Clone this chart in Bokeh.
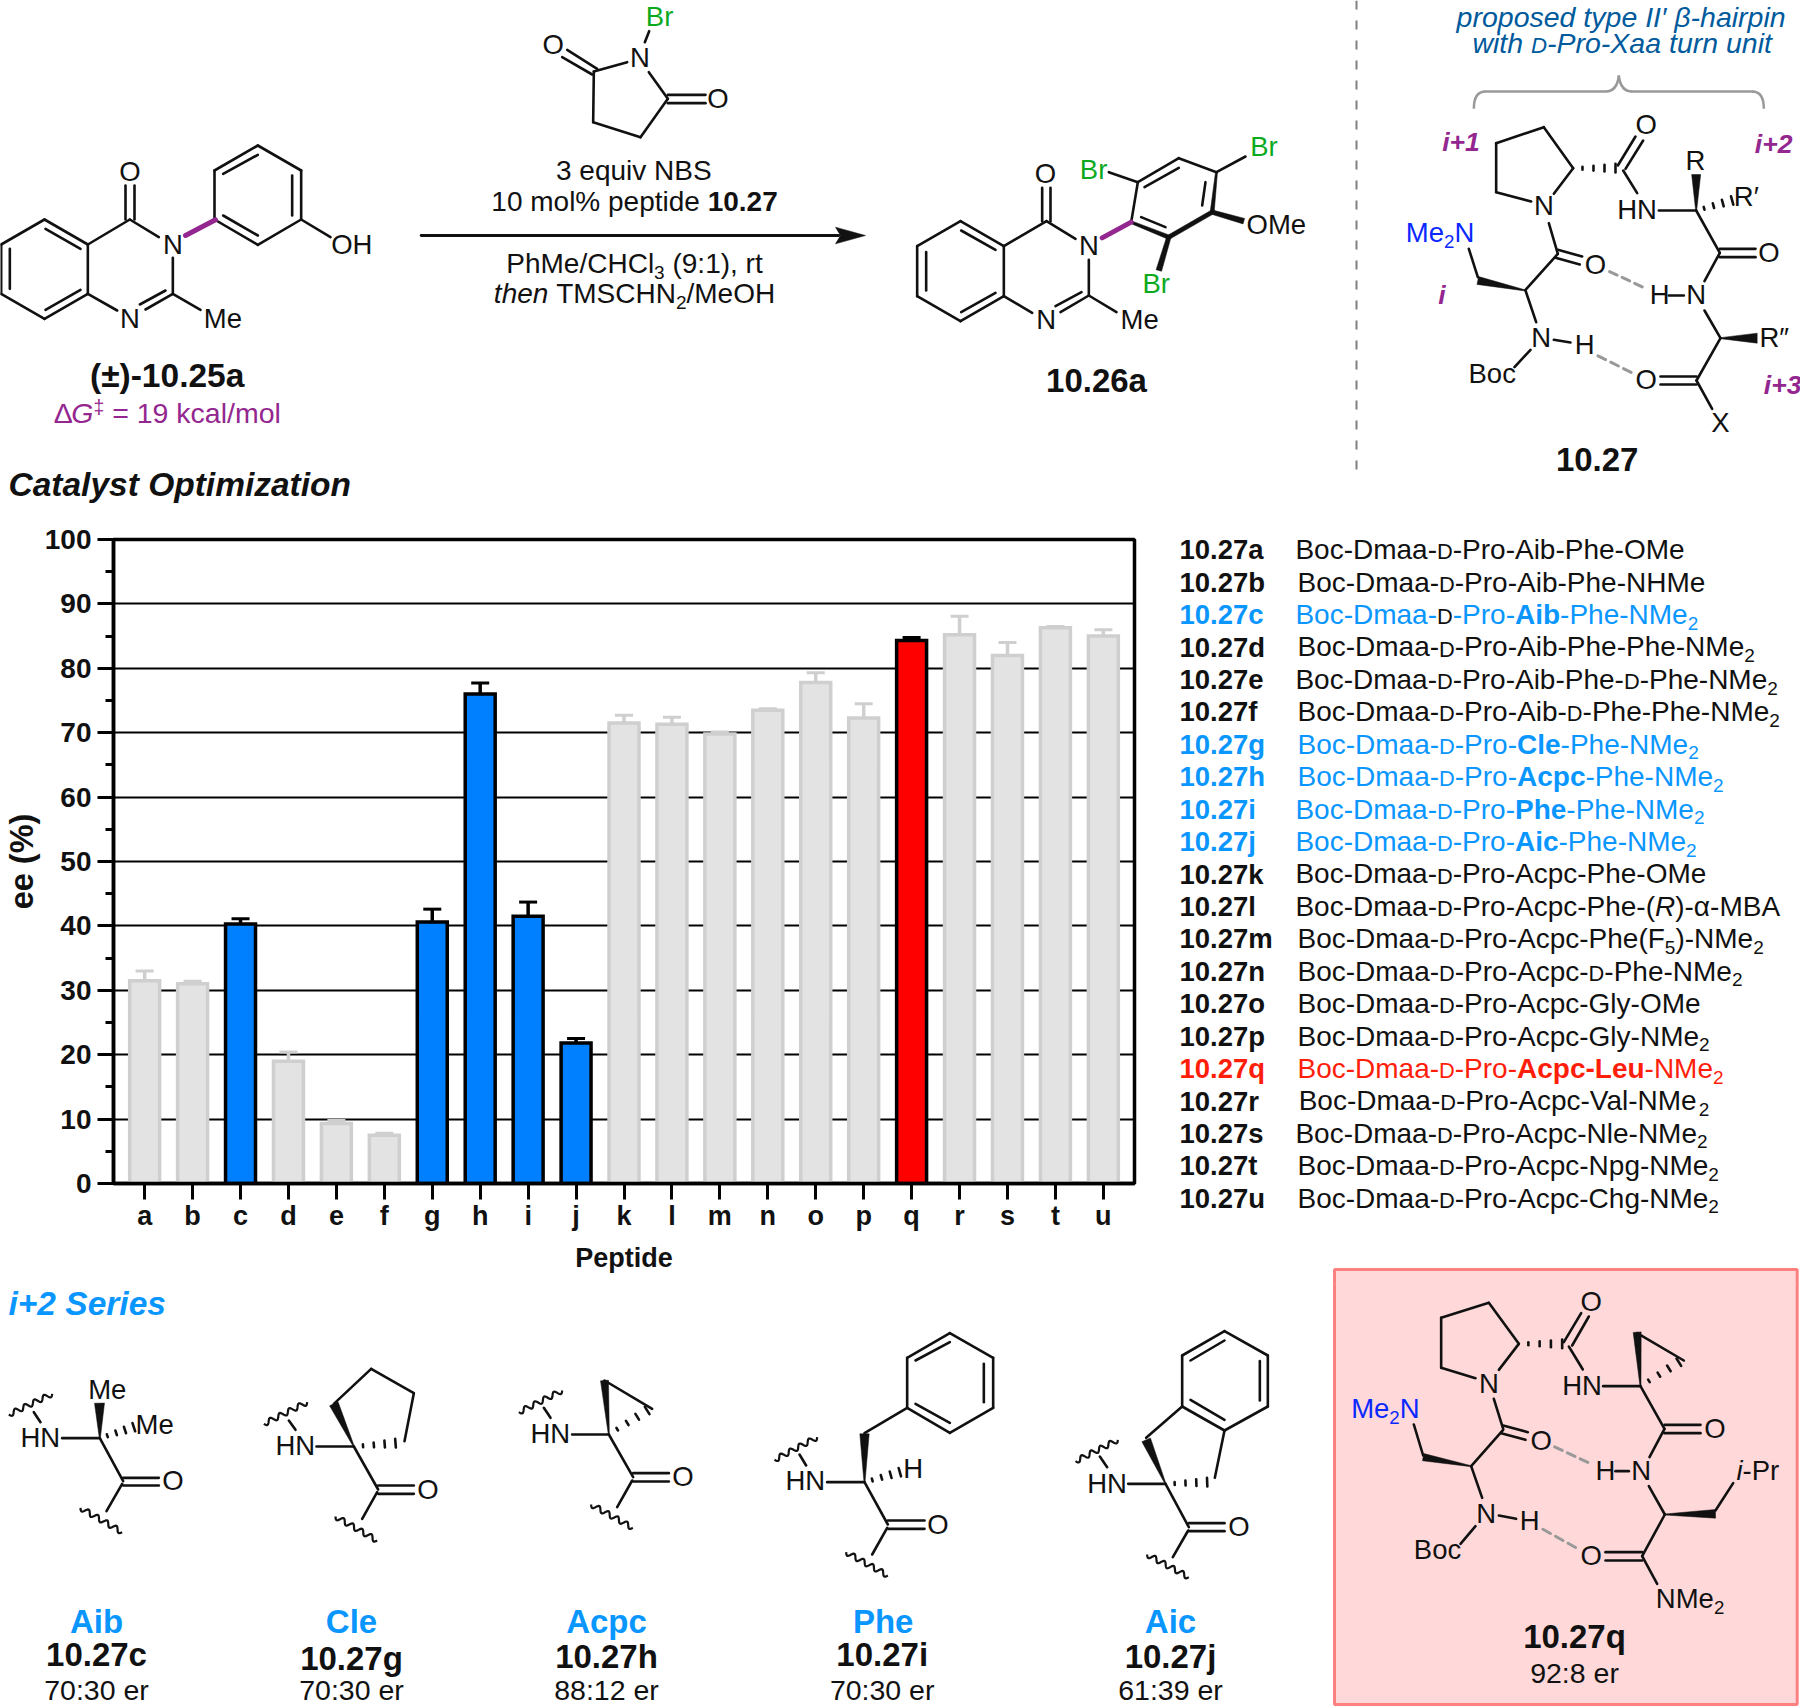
import math, re
from bokeh.plotting import figure
from bokeh.layouts import column, row
from bokeh.models import (ColumnDataSource, FactorRange, Range1d, SingleIntervalTicker,
                          Whisker, TeeHead)
from bokeh.core.properties import value
from bokeh.embed import file_html
from bokeh.resources import INLINE

# ---------- chart data ----------
PEPTIDES = list("abcdefghijklmnopqrstu")
EE = [31.5, 31.0, 40.3, 19.0, 9.3, 7.5, 40.6, 76.0, 41.5, 21.8, 71.5,
      71.3, 69.8, 73.5, 77.8, 72.3, 84.3, 85.2, 82.0, 86.3, 85.0]
ERR = [1.5, 0.4, 0.8, 1.4, 0.5, 0.3, 2.0, 1.7, 2.2, 0.7, 1.2,
       1.1, 0.3, 0.2, 1.5, 2.2, 0.5, 2.9, 2.0, 0.2, 1.0]
GROUP = list("ggbgggbbbbggggggrgggg")

# ---------- peptide table ----------
BLACK, BLUE, RED, PURPLE, GREEN, NBLUE, NAVY = "#111111", "#0A96FF", "#FF1E0A", "#93278F", "#0BAA1E", "#0A28FF", "#005A9C"
D = "[sc|D]"
TABLE = [
 ("a", 333, BLACK, f"Boc-Dmaa-{D}-Pro-Aib-Phe-OMe"),
 ("b", 338, BLACK, f"Boc-Dmaa-{D}-Pro-Aib-Phe-NHMe"),
 ("c", 333, BLUE,  "Boc-Dmaa-[sck|D]-Pro-[b|Aib]-Phe-NMe[s|2]"),
 ("d", 338, BLACK, f"Boc-Dmaa-{D}-Pro-Aib-Phe-Phe-NMe[s|2]"),
 ("e", 333, BLACK, f"Boc-Dmaa-{D}-Pro-Aib-Phe-{D}-Phe-NMe[s|2]"),
 ("f", 338, BLACK, f"Boc-Dmaa-{D}-Pro-Aib-{D}-Phe-Phe-NMe[s|2]"),
 ("g", 338, BLUE,  f"Boc-Dmaa-{D}-Pro-[b|Cle]-Phe-NMe[s|2]"),
 ("h", 338, BLUE,  f"Boc-Dmaa-{D}-Pro-[b|Acpc]-Phe-NMe[s|2]"),
 ("i", 333, BLUE,  f"Boc-Dmaa-{D}-Pro-[b|Phe]-Phe-NMe[s|2]"),
 ("j", 333, BLUE,  f"Boc-Dmaa-{D}-Pro-[b|Aic]-Phe-NMe[s|2]"),
 ("k", 333, BLACK, f"Boc-Dmaa-{D}-Pro-Acpc-Phe-OMe"),
 ("l", 333, BLACK, f"Boc-Dmaa-{D}-Pro-Acpc-Phe-([i|R])-α-MBA"),
 ("m", 338, BLACK, f"Boc-Dmaa-{D}-Pro-Acpc-Phe(F[s|5])-NMe[s|2]"),
 ("n", 338, BLACK, f"Boc-Dmaa-{D}-Pro-Acpc-{D}-Phe-NMe[s|2]"),
 ("o", 338, BLACK, f"Boc-Dmaa-{D}-Pro-Acpc-Gly-OMe"),
 ("p", 338, BLACK, f"Boc-Dmaa-{D}-Pro-Acpc-Gly-NMe[s|2]"),
 ("q", 338, RED,   f"Boc-Dmaa-{D}-Pro-[b|Acpc-Leu]-NMe[s|2]"),
 ("r", 341, BLACK, f"Boc-Dmaa-{D}-Pro-Acpc-Val-NMe[s|2]"),
 ("s", 333, BLACK, f"Boc-Dmaa-{D}-Pro-Acpc-Nle-NMe[s|2]"),
 ("t", 338, BLACK, f"Boc-Dmaa-{D}-Pro-Acpc-Npg-NMe[s|2]"),
 ("u", 338, BLACK, f"Boc-Dmaa-{D}-Pro-Acpc-Chg-NMe[s|2]"),
]

# ---------- drawings: coordinates are reference pixels x3 relative to an origin ----------
# keys: b bonds, pb purple bonds, w wedges (x1,y1,x2,y2,w1,w2), h hash bonds, hb H-bond dashes,
#       wv wavy bonds, t texts (x, baseline, markup, anchor, size, colour)
def ring6(v):
    return [v[i] + v[(i + 1) % len(v)] for i in range(len(v))]

SM = dict(o=(0, 120),
  b=ring6([(132,297),(262,372),(262,520),(132,595),(2,520),(2,372)]) + [
    (135,325,240,385),(28,385,28,505),(135,568,240,508),(262,372,388,297),
    (375,195,375,297),(402,195,402,297),(388,297,475,350),(517,412,517,520),
    (517,520,435,567),(495,510,418,552),(262,520,350,570),(517,520,600,568)] +
    ring6([(642,297),(642,150),(772,75),(902,150),(902,297),(772,373)]) + [
    (668,160,772,103),(875,165,875,285),(668,285,772,345),(902,297,990,350)],
  pb=[(555,345,645,298)],
  t=[(388,183,"O","c"),(517,402,"N","c"),(388,622,"N","c"),(610,622,"Me","l"),(992,402,"OH","l"),
     (500,800,"[b|(±)-10.25a]","c",33.5),
     (160,908,"Δ[i|G][u|‡] = 19 kcal/mol","l",28.5,PURPLE)])

NBS = dict(o=(410, 0),
  b=[(716,92,703,125),(550,213,650,185),(455,170,545,222),(470,148,560,205),(550,213,548,365),
     (548,365,690,410),(690,410,772,295),(772,295,715,215),(772,283,885,283),(772,308,885,308)],
  t=[(706,76,"Br","l",27.5,GREEN),(688,200,"N","c"),(428,160,"O","c"),(922,322,"O","c"),
     (670,540,"3 equiv NBS","c",28),(672,632,"10 mol% peptide [b|10.27]","c",28),
     (672,818,"PhMe/CHCl[s|3] (9:1), rt","c",28),(672,908,"[i|then] TMSCHN[s|2]/MeOH","c",28)])
ARROW_LINE = (32,705,1285,705)
ARROW_HEAD = [(1365,705),(1275,680),(1290,705),(1275,730)]

PROD = dict(o=(900, 130),
  b=ring6([(180,272),(310,347),(310,497),(180,572),(50,497),(50,347)]) + [
    (182,300,285,358),(77,365,77,480),(182,545,285,487),(310,347,438,272),(425,172,425,272),
    (450,172,450,272),(438,272,525,325),(565,388,565,495),(565,495,480,545),(543,485,465,527),
    (310,497,395,547),(565,495,648,545),(692,275,712,155),(712,155,835,83),(835,83,948,125),
    (732,170,835,112),(915,155,905,225),(722,260,795,290),(712,155,625,125),(948,125,1035,78)],
  pb=[(605,322,692,275)],
  w=[(948,125,935,245,6,12),(935,245,805,320,13,13),(805,320,692,275,13,8),
     (935,245,1030,272,13,17),(805,320,775,420,13,17)],
  t=[(435,157,"O","c"),(565,375,"N","c"),(437,597,"N","c"),(660,597,"Me","l"),
     (538,145,"Br","l",27.5,GREEN),(1049,78,"Br","l",27.5,GREEN),(726,488,"Br","l",27.5,GREEN),
     (1038,312,"OMe","l"),(588,785,"[b|10.26a]","c",33)])

TURN = dict(o=(1340, 0),
  b=[(572,603,467,575),(467,575,467,428),(467,428,610,380),(610,380,698,503),(698,503,640,580),
     (832,495,885,408),(855,505,908,420),(848,510,890,578),(955,630,1067,630),(1067,630,1138,757),
     (1138,745,1245,745),(1138,770,1245,770),(1138,757,1092,842),(985,885,1030,885),(1092,930,1140,1013),
     (1140,1013,1068,1140),(960,1128,1068,1128),(960,1152,1068,1152),(1068,1140,1115,1225),
     (625,668,652,760),(652,748,725,768),(645,772,718,792),(652,760,555,868),(412,830,385,745),
     (555,870,587,965),(640,1018,690,1026),(570,1048,522,1100)],
  w=[(1067,630,1067,522,3,27),(1140,1013,1250,1013,3,30),(555,870,412,840,3,24)],
  h=[(698,503,825,503),(1067,630,1175,600)],
  hb=[(805,812,918,865),(770,1065,885,1122)],
  t=[(610,645,"N","c"),(917,402,"O","c"),(830,655,"HN","l"),(1065,510,"R","c"),(1180,618,"R′","l"),
     (1285,785,"O","c"),(928,912,"H","l"),(1067,912,"N","c"),(1257,1040,"R″","l"),(917,1167,"O","c"),
     (1140,1295,"X","c"),(765,822,"O","c"),(196,725,"Me[s|2]N","l",27.5,NBLUE),(602,1040,"N","c"),
     (703,1062,"H","l"),(384,1148,"Boc","l"),
     (305,452,"[bi|i+1]","l",26.5,PURPLE),(1243,458,"[bi|i+2]","l",26.5,PURPLE),(1270,1182,"[bi|i+3]","l",26.5,PURPLE),
     (293,912,"[bi|i]","l",26.5,PURPLE),(770,1412,"[b|10.27]","c",33),
     (842,80,"[i|proposed type II′ β-hairpin]","c",28.5,NAVY),
     (845,157,"[i|with ][isc|D][i|-Pro-Xaa turn unit]","c",28.5,NAVY)])
BRACE_Q = [(400,325,435,273,400,273),(795,273,835,225,830,273),(835,225,875,273,840,273),(1235,273,1270,325,1270,273)]
BRACE_L = [(435,273,795,273),(875,273,1235,273)]
DIVIDER = (1356, 0, 1356, 473)

AIB = dict(o=(0, 1270),
  b=[(100,425,120,455),(185,503,298,503),(298,503,368,632),(368,622,475,622),(368,645,475,645),(365,640,318,722)],
  w=[(298,503,297,398,3,30)], h=[(298,503,400,470)], wv=[(25,432,155,370),(240,712,365,785)],
  t=[(60,530,"HN","l"),(263,385,"Me","l"),(405,492,"Me","l"),(517,660,"O","c"),
     (288,1088,"[b|Aib]","c",33,BLUE),(288,1187,"[b|10.27c]","c",33),(288,1288,"70:30 er","c",28.5)])
CLE = dict(o=(0, 1270),
  b=[(865,450,885,478),(948,528,1060,528),(1000,400,1112,295),(1112,295,1240,368),(1240,368,1212,512),
     (1060,528,1133,657),(1133,645,1240,645),(1133,670,1240,670),(1130,665,1085,745)],
  w=[(1060,528,1000,400,3,28)], h=[(1060,528,1185,518)], wv=[(790,460,920,395),(1005,738,1130,810)],
  t=[(825,555,"HN","l"),(1282,685,"O","c"),(1053,1088,"[b|Cle]","c",33,BLUE),
     (1053,1198,"[b|10.27g]","c",33),(1053,1288,"70:30 er","c",28.5)])
ACPC = dict(o=(480, 1300),
  b=[(190,322,210,352),(275,402,385,402),(372,240,515,325),(385,402,458,530),(458,518,565,518),
     (458,543,565,543),(455,540,410,620)],
  w=[(385,402,372,240,3,24)], h=[(385,402,500,330)], wv=[(115,335,245,270),(332,612,457,682)],
  t=[(150,428,"HN","l"),(607,558,"O","c"),(378,998,"[b|Acpc]","c",33,BLUE),
     (378,1103,"[b|10.27h]","c",33),(378,1198,"88:12 er","c",28.5)])
PHE = dict(o=(480, 1300),
  b=[(957,462,977,495),(1040,545,1152,545),(1152,398,1280,322)] +
    ring6([(1280,322),(1280,172),(1408,98),(1538,172),(1538,322),(1408,397)]) + [
    (1305,180,1408,125),(1510,190,1510,305),(1305,310,1408,367),(1152,545,1222,672),
    (1222,660,1332,660),(1222,685,1332,685),(1220,682,1175,762)],
  w=[(1152,545,1152,400,3,28)], h=[(1152,545,1258,515)], wv=[(882,478,1010,410),(1097,755,1222,825)],
  t=[(915,570,"HN","l"),(1268,532,"H","l"),(1372,700,"O","c"),(1208,998,"[b|Phe]","c",33,BLUE),
     (1205,1098,"[b|10.27i]","c",33),(1205,1198,"70:30 er","c",28.5)])
AIC = dict(o=(1000, 1300),
  b=[(298,468,320,500),(383,550,495,550),(437,412,545,318)] +
    ring6([(545,318),(545,165),(672,92),(802,165),(802,318),(672,390)]) + [
    (570,180,672,120),(778,182,778,300),(570,298,672,358),(672,390,643,532),(495,550,565,680),
    (565,668,672,668),(565,692,672,692),(563,690,517,770)],
  w=[(495,550,437,418,3,28)], h=[(495,550,620,545)], wv=[(225,482,352,418),(440,762,565,830)],
  t=[(260,578,"HN","l"),(715,708,"O","c"),(510,998,"[b|Aic]","c",33,BLUE),
     (510,1103,"[b|10.27j]","c",33),(510,1198,"61:39 er","c",28.5)])
BEST = dict(o=(1320, 1260),
  b=[(465,353,362,322),(362,322,362,172),(362,172,505,127),(505,127,595,250),(595,250,535,328),
     (730,245,782,158),(755,255,805,168),(745,258,787,327),(848,377,960,377),(950,218,1090,300),
     (960,377,1032,505),(1032,493,1140,493),(1032,518,1140,518),(1032,505,987,590),(885,632,925,632),
     (985,677,1033,762),(1185,750,1238,668),(1033,762,965,887),(855,875,965,875),(855,900,965,900),
     (965,887,1010,970),(520,415,548,505),(548,495,622,515),(542,518,615,538),(548,508,452,617),
     (308,585,280,492),(452,617,485,712),(535,765,587,775),(465,797,420,850)],
  w=[(960,377,950,215,3,24),(1033,762,1185,760,3,26),(452,617,308,590,3,22)],
  h=[(595,250,725,250),(960,377,1075,305)],
  hb=[(700,558,815,612),(665,805,778,868)],
  t=[(505,397,"N","c"),(812,152,"O","c"),(725,403,"HN","l"),(1183,533,"O","c"),(825,660,"H","l"),
     (962,660,"N","c"),(1248,660,"[i|i]-Pr","l"),(812,915,"O","c"),(1006,1043,"NMe[s|2]","l"),
     (662,570,"O","c"),(92,473,"Me[s|2]N","l",27.5,NBLUE),(497,787,"N","c"),(598,810,"H","l"),
     (280,895,"Boc","l"),(762,1162,"[b|10.27q]","c",33),(762,1268,"92:8 er","c",28.5)])
BOX = (42, 27, 1430, 1332)

# ---------- text metrics (Helvetica/Liberation advance widths, per 1000) ----------
REG = dict(zip("abcdefghijklmnopqrstuvwxyz", [556,556,500,556,556,278,556,556,222,222,500,222,833,556,556,556,556,333,500,278,556,500,722,500,500,500]))
REG.update(zip("ABCDEFGHIJKLMNOPQRSTUVWXYZ", [667,667,722,722,667,611,778,722,278,500,667,556,833,722,778,667,778,722,667,611,722,667,944,667,667,611]))
BOLD = dict(zip("abcdefghijklmnopqrstuvwxyz", [556,611,556,611,556,333,611,611,278,278,556,278,889,611,611,611,611,389,556,333,611,556,778,556,556,500]))
BOLD.update(zip("ABCDEFGHIJKLMNOPQRSTUVWXYZ", [722,722,722,722,667,611,778,722,278,556,722,611,833,722,778,667,778,722,667,611,722,667,944,667,667,611]))
COMMON = {" ":278,"(":333,")":333,"-":333,".":278,"/":278,":":278,",":278,"+":584,"=":584,"%":889,"±":549,"‡":556,
          "α":577,"β":575,"Δ":612,"′":190,"″":350}
COMMON.update({c:556 for c in "0123456789"})
BASELINE_FIX = 0.35  # the text glyph sits this many em below the requested alphabetic baseline

def tw(s, bold):
    t = BOLD if bold else REG
    return sum(t.get(c, COMMON.get(c, 556)) for c in s) / 1000

def parse(markup):
    out, pos = [], 0
    for m in re.finditer(r"\[(\w+)\|([^\]]*)\]", markup):
        if m.start() > pos:
            out.append(("r", markup[pos:m.start()]))
        out.append((m.group(1), m.group(2)))
        pos = m.end()
    if pos < len(markup):
        out.append(("r", markup[pos:]))
    return out

class Canvas:
    def __init__(self, x0, x1, y0, y1, **kw):
        self.fig = figure(width=x1 - x0, height=y1 - y0, x_range=Range1d(x0, x1), y_range=Range1d(y1, y0),
                          toolbar_location=None, output_backend="svg", min_border=0,
                          x_axis_location=None, y_axis_location=None, outline_line_color=None, **kw)
        self.fig.frame_align = False
        self.fig.grid.visible = False
        self.seg = dict(x0=[], y0=[], x1=[], y1=[], c=[], w=[])
        self.txt = dict(x=[], y=[], t=[], fs=[], sz=[], c=[])
        self.pat = dict(xs=[], ys=[], c=[])

    def line(self, a, b, c, d, color=BLACK, w=2.6):
        for k, v in zip(("x0", "y0", "x1", "y1", "c", "w"), (a, b, c, d, color, w)):
            self.seg[k].append(v)

    def poly(self, xs, ys, color=BLACK):
        self.pat["xs"].append(xs); self.pat["ys"].append(ys); self.pat["c"].append(color)

    def text(self, x, y, markup, anchor="l", size=27.5, color=BLACK):
        runs, total = [], 0
        for st, s in parse(markup):
            bold = st in ("b", "bi")
            sz, dy, col = size, 0, color
            fs = {"b": "bold", "bi": "bold italic", "i": "italic", "isc": "italic"}.get(st, "normal")
            if st == "s":
                sz, dy = size * .68, size * .2
            elif st == "u":
                sz, dy = size * .68, -size * .33
            elif st in ("sc", "isc", "sck"):
                sz = size * .78
                if st == "sck":
                    col = BLACK
            lead = len(s) - len(s.lstrip(" "))
            adv = tw(s, bold) * sz
            runs.append((s.strip(" "), fs, sz, dy - BASELINE_FIX * sz, col, total + lead * .278 * sz))
            total += adv
        x0 = x - (total / 2 if anchor == "c" else total if anchor == "r" else 0)
        for s, fs, sz, dy, col, off in runs:
            self.txt["x"].append(x0 + off); self.txt["y"].append(y + dy); self.txt["t"].append(s)
            self.txt["fs"].append(fs); self.txt["sz"].append(f"{sz:.1f}px"); self.txt["c"].append(col)

    def flush(self):
        p = self.fig
        if self.pat["xs"]:
            p.patches("xs", "ys", fill_color="c", line_color="c", line_width=0.5, source=ColumnDataSource(self.pat))
        if self.seg["x0"]:
            p.segment("x0", "y0", "x1", "y1", line_color="c", line_width="w", line_cap="round",
                      source=ColumnDataSource(self.seg))
        p.text("x", "y", text="t", text_font=value("Liberation Sans"), text_font_style="fs", text_font_size="sz",
               text_color="c", text_align="left", text_baseline="alphabetic", source=ColumnDataSource(self.txt))

def wedge_poly(x1, y1, x2, y2, w1, w2):
    dx, dy = x2 - x1, y2 - y1
    L = math.hypot(dx, dy) or 1
    nx, ny = -dy / L, dx / L
    return ([x1 + nx * w1 / 2, x2 + nx * w2 / 2, x2 - nx * w2 / 2, x1 - nx * w1 / 2],
            [y1 + ny * w1 / 2, y2 + ny * w2 / 2, y2 - ny * w2 / 2, y1 - ny * w1 / 2])

def draw(cv, mol):
    ox, oy = mol["o"]
    X = lambda v: ox + v / 3
    Y = lambda v: oy + v / 3
    for a, b, c, d in mol.get("b", []):
        cv.line(X(a), Y(b), X(c), Y(d))
    for a, b, c, d in mol.get("pb", []):
        cv.line(X(a), Y(b), X(c), Y(d), PURPLE, 5)
    for a, b, c, d, w1, w2 in mol.get("w", []):
        xs, ys = wedge_poly(a, b, c, d, w1, w2)
        cv.poly([X(v) for v in xs], [Y(v) for v in ys])
    for a, b, c, d in mol.get("h", []):
        for k in range(4):
            t = .22 + k * .26
            mx, my = a + (c - a) * t, b + (d - b) * t
            L = math.hypot(c - a, d - b)
            nx, ny = -(d - b) / L, (c - a) / L
            hw = 2 + 11 * t
            cv.line(X(mx + nx * hw), Y(my + ny * hw), X(mx - nx * hw), Y(my - ny * hw), BLACK, 2.6)
    for a, b, c, d in mol.get("hb", []):
        for k in range(3):
            s, e = k / 3 + .02, k / 3 + .22
            cv.line(X(a + (c - a) * s), Y(b + (d - b) * s), X(a + (c - a) * e), Y(b + (d - b) * e), "#999999", 3)
    for a, b, c, d in mol.get("wv", []):
        L = math.hypot(c - a, d - b)
        nx, ny = -(d - b) / L, (c - a) / L
        n = 60
        pts = [(a + (c - a) * i / n + nx * 8 * math.sin(2 * math.pi * 4.5 * i / n),
                b + (d - b) * i / n + ny * 8 * math.sin(2 * math.pi * 4.5 * i / n)) for i in range(n + 1)]
        cv.fig.line([X(q[0]) for q in pts], [Y(q[1]) for q in pts], line_color=BLACK, line_width=2.2)
    for row_ in mol.get("t", []):
        x, y, m, anchor = row_[:4]
        size = row_[4] if len(row_) > 4 else 27.5
        color = row_[5] if len(row_) > 5 else BLACK
        cv.text(X(x), Y(y), m, anchor, size, color)

def box_on(cv):
    ox, oy = BEST["o"]
    a, b, c, d = BOX
    cv.fig.quad(left=ox + a / 3, right=ox + c / 3, top=oy + b / 3, bottom=oy + d / 3,
                fill_color="#FFD9D9", line_color="#FF8080", line_width=3)

# ---------- top panel ----------
top = Canvas(0, 1800, 0, 515)
for m in (SM, NBS, PROD, TURN):
    draw(top, m)
ox, oy = NBS["o"]
a, b, c, d = ARROW_LINE
top.line(ox + a / 3, oy + b / 3, ox + c / 3, oy + d / 3, BLACK, 2.8)
top.poly([ox + q[0] / 3 for q in ARROW_HEAD], [oy + q[1] / 3 for q in ARROW_HEAD])
ox, oy = TURN["o"]
top.fig.quadratic(x0=[ox + q[0] / 3 for q in BRACE_Q], y0=[oy + q[1] / 3 for q in BRACE_Q],
                  x1=[ox + q[2] / 3 for q in BRACE_Q], y1=[oy + q[3] / 3 for q in BRACE_Q],
                  cx=[ox + q[4] / 3 for q in BRACE_Q], cy=[oy + q[5] / 3 for q in BRACE_Q],
                  line_color="#999999", line_width=2.5)
for q in BRACE_L:
    top.line(ox + q[0] / 3, oy + q[1] / 3, ox + q[2] / 3, oy + q[3] / 3, "#999999", 2.5)
top.fig.line([DIVIDER[0], DIVIDER[2]], [DIVIDER[1], DIVIDER[3]], line_color="#808080", line_width=2, line_dash="9 11")
top.text(8, 496, "[bi|Catalyst Optimization]", "l", 33.5)
top.flush()

# ---------- bar chart ----------
chart = figure(width=1165, height=770, x_range=FactorRange(factors=PEPTIDES, range_padding=0.15,
               range_padding_units="absolute", factor_padding=0), y_range=Range1d(0, 100),
               toolbar_location=None, output_backend="svg", min_border_left=113, min_border_right=31,
               min_border_top=24, min_border_bottom=102, outline_line_color="black", outline_line_width=3.5,
               y_axis_label="ee (%)", x_axis_label="Peptide")
chart.frame_align = False
chart.xgrid.visible = False
chart.ygrid.grid_line_color = "black"
chart.ygrid.grid_line_width = 2
chart.yaxis.ticker = SingleIntervalTicker(interval=10, num_minor_ticks=2)
chart.yaxis.minor_tick_out = 8
chart.yaxis.minor_tick_in = 0
chart.yaxis.minor_tick_line_width = 3
chart.xaxis.minor_tick_line_color = None
for ax in (chart.xaxis, chart.yaxis):
    ax.major_tick_out = 16
    ax.major_tick_in = 0
    ax.major_tick_line_width = 3
    ax.major_tick_line_color = "black"
    ax.axis_line_width = 3.5
    ax.axis_line_color = "black"
    ax.major_label_text_font = "Liberation Sans"
    ax.major_label_text_font_style = "bold"
    ax.major_label_text_color = "#111111"
    ax.axis_label_text_font = "Liberation Sans"
    ax.axis_label_text_font_style = "bold"
    ax.axis_label_text_color = "#111111"
chart.yaxis.major_label_text_font_size = "28px"
chart.xaxis.major_label_text_font_size = "27px"
chart.yaxis.major_label_standoff = 6
chart.yaxis.axis_label_standoff = 2
chart.yaxis.axis_label_text_font_size = "32.5px"
chart.xaxis.major_label_standoff = 1
chart.xaxis.axis_label_standoff = 9
chart.xaxis.axis_label_text_font_size = "27px"

FILLS = {"g": "#E3E3E3", "b": "#0080FF", "r": "#FF0000"}
EDGES = {"g": "#CFCFCF", "b": "#000000", "r": "#000000"}
for grp in "gbr":
    idx = [i for i, g in enumerate(GROUP) if g == grp]
    src = ColumnDataSource(dict(x=[PEPTIDES[i] for i in idx], v=[EE[i] for i in idx],
                                hi=[EE[i] + ERR[i] for i in idx]))
    chart.add_layout(Whisker(source=src, base="x", lower="v", upper="hi", dimension="height",
                             line_color=EDGES[grp], line_width=3.5, lower_head=None,
                             upper_head=TeeHead(size=18, line_color=EDGES[grp], line_width=3)))
    chart.vbar(x="x", top="v", bottom=0, width=0.625, source=src, fill_color=FILLS[grp],
               line_color=EDGES[grp], line_width=3.5, line_join="miter")

# ---------- peptide table panel ----------
right = Canvas(1165, 1800, 515, 1285)
box_on(right)
for i, (letter, off, col, name) in enumerate(TABLE):
    y = 559 + i * 32.42
    right.text(1179, y, f"[b|10.27{letter}]", "l", 27.5, col)
    right.text(1159 + off / 2.45, y, name, "l", 28, col)
right.flush()

# ---------- bottom panel ----------
bottom = Canvas(0, 1800, 1284, 1706, margin=(-1, 0, 0, 0), background_fill_alpha=0, border_fill_alpha=0)
box_on(bottom)
for m in (AIB, CLE, ACPC, PHE, AIC, BEST):
    draw(bottom, m)
bottom.text(8, 1315, "[bi|i+2 Series]", "l", 33.5, BLUE)
bottom.flush()

page = column(top.fig, row(chart, right.fig, spacing=0), bottom.fig, spacing=0)
open("out.html", "w").write(file_html(page, INLINE))
